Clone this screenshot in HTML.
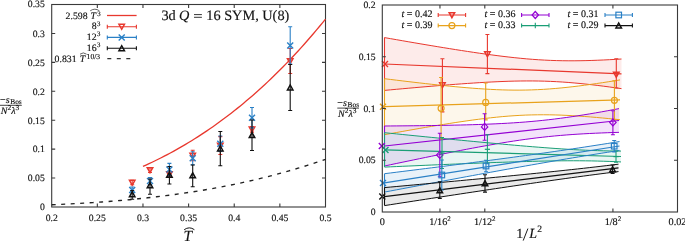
<!DOCTYPE html><html><head><meta charset="utf-8"><style>
html,body{margin:0;padding:0;background:#fff;overflow:hidden;}
svg{display:block;will-change:transform;text-rendering:geometricPrecision;}
text{font-family:"Liberation Serif", serif;fill:#111;stroke:#111;stroke-width:0.15px;}
.tk{font-size:9.7px;}
</style></head><body>
<svg width="685" height="241" viewBox="0 0 685 241">
<rect x="51.7" y="4.5" width="273.8" height="202.5" fill="none" stroke="#3a3a3a" stroke-width="1.1"/>
<text class="tk" x="51.7" y="220.8" text-anchor="middle">0.2</text>
<text class="tk" x="97.33" y="220.8" text-anchor="middle">0.25</text>
<text class="tk" x="142.97" y="220.8" text-anchor="middle">0.3</text>
<text class="tk" x="188.6" y="220.8" text-anchor="middle">0.35</text>
<text class="tk" x="234.23" y="220.8" text-anchor="middle">0.4</text>
<text class="tk" x="279.87" y="220.8" text-anchor="middle">0.45</text>
<text class="tk" x="325.5" y="220.8" text-anchor="middle">0.5</text>
<text class="tk" x="44.8" y="210.3" text-anchor="end">0</text>
<text class="tk" x="44.8" y="181.37" text-anchor="end">0.05</text>
<text class="tk" x="44.8" y="152.44" text-anchor="end">0.1</text>
<text class="tk" x="44.8" y="123.51" text-anchor="end">0.15</text>
<text class="tk" x="44.8" y="94.59" text-anchor="end">0.2</text>
<text class="tk" x="44.8" y="65.66" text-anchor="end">0.25</text>
<text class="tk" x="44.8" y="36.73" text-anchor="end">0.3</text>
<text class="tk" x="44.8" y="6.9" text-anchor="end">0.35</text>
<path d="M97.33 207v-3.5 M97.33 4.5v3.5 M142.97 207v-3.5 M142.97 4.5v3.5 M188.6 207v-3.5 M188.6 4.5v3.5 M234.23 207v-3.5 M234.23 4.5v3.5 M279.87 207v-3.5 M279.87 4.5v3.5 M51.7 178.07h3.5 M325.5 178.07h-3.5 M51.7 149.14h3.5 M325.5 149.14h-3.5 M51.7 120.21h3.5 M325.5 120.21h-3.5 M51.7 91.29h3.5 M325.5 91.29h-3.5 M51.7 62.36h3.5 M325.5 62.36h-3.5 M51.7 33.43h3.5 M325.5 33.43h-3.5" stroke="#3a3a3a" stroke-width="1.1" fill="none"/>
<polyline points="142.97,166.42 146.01,165.05 149.05,163.65 152.09,162.22 155.14,160.76 158.18,159.27 161.22,157.75 164.26,156.19 167.3,154.6 170.35,152.98 173.39,151.33 176.43,149.64 179.47,147.92 182.52,146.17 185.56,144.38 188.6,142.55 191.64,140.69 194.68,138.8 197.73,136.87 200.77,134.9 203.81,132.9 206.85,130.86 209.9,128.79 212.94,126.67 215.98,124.52 219.02,122.33 222.06,120.1 225.11,117.84 228.15,115.53 231.19,113.18 234.23,110.8 237.28,108.37 240.32,105.91 243.36,103.4 246.4,100.86 249.44,98.27 252.49,95.64 255.53,92.96 258.57,90.25 261.61,87.49 264.66,84.69 267.7,81.85 270.74,78.96 273.78,76.03 276.82,73.05 279.87,70.03 282.91,66.96 285.95,63.85 288.99,60.69 292.04,57.49 295.08,54.24 298.12,50.94 301.16,47.6 304.2,44.21 307.25,40.77 310.29,37.28 313.33,33.74 316.37,30.16 319.42,26.52 322.46,22.84 325.5,19.11" fill="none" stroke="#e8382e" stroke-width="1.3"/>
<polyline points="51.7,204.75 56.26,204.56 60.83,204.35 65.39,204.14 69.95,203.91 74.52,203.67 79.08,203.42 83.64,203.15 88.21,202.87 92.77,202.58 97.33,202.27 101.9,201.94 106.46,201.61 111.02,201.25 115.59,200.88 120.15,200.5 124.71,200.1 129.28,199.68 133.84,199.24 138.4,198.78 142.97,198.31 147.53,197.82 152.09,197.31 156.66,196.78 161.22,196.22 165.78,195.65 170.35,195.06 174.91,194.45 179.47,193.81 184.04,193.15 188.6,192.47 193.16,191.77 197.73,191.04 202.29,190.29 206.85,189.52 211.42,188.72 215.98,187.89 220.54,187.04 225.11,186.16 229.67,185.26 234.23,184.33 238.8,183.37 243.36,182.38 247.92,181.37 252.49,180.32 257.05,179.25 261.61,178.15 266.18,177.01 270.74,175.85 275.3,174.65 279.87,173.43 284.43,172.17 288.99,170.87 293.56,169.55 298.12,168.19 302.68,166.8 307.25,165.37 311.81,163.9 316.37,162.41 320.94,160.87 325.5,159.3" fill="none" stroke="#222" stroke-width="1.4" stroke-dasharray="4,5.5"/>
<path d="M132.2 180.4V184.8 M130.2 180.4h4 M130.2 184.8h4" stroke="#e8382e" stroke-width="1.1" fill="none"/>
<path d="M129.45 180.26L134.95 180.26L132.2 185.21Z" fill="none" stroke="#e8382e" stroke-width="1.5"/>
<path d="M150 167.5V172.5 M148 167.5h4 M148 172.5h4" stroke="#e8382e" stroke-width="1.1" fill="none"/>
<path d="M147.25 167.66L152.75 167.66L150 172.61Z" fill="none" stroke="#e8382e" stroke-width="1.5"/>
<path d="M169.4 171.5V176.5 M167.4 171.5h4 M167.4 176.5h4" stroke="#e8382e" stroke-width="1.1" fill="none"/>
<path d="M166.65 171.66L172.15 171.66L169.4 176.61Z" fill="none" stroke="#e8382e" stroke-width="1.5"/>
<path d="M192.7 150.2V160.8 M190.7 150.2h4 M190.7 160.8h4" stroke="#e8382e" stroke-width="1.1" fill="none"/>
<path d="M189.95 153.16L195.45 153.16L192.7 158.11Z" fill="none" stroke="#e8382e" stroke-width="1.5"/>
<path d="M220.3 136.6V154.5 M218.3 136.6h4 M218.3 154.5h4" stroke="#e8382e" stroke-width="1.1" fill="none"/>
<path d="M217.55 143.16L223.05 143.16L220.3 148.11Z" fill="none" stroke="#e8382e" stroke-width="1.5"/>
<path d="M252 126.5V132.1 M250 126.5h4 M250 132.1h4" stroke="#e8382e" stroke-width="1.1" fill="none"/>
<path d="M249.25 126.96L254.75 126.96L252 131.91Z" fill="none" stroke="#e8382e" stroke-width="1.5"/>
<path d="M290.2 48.5V73.5 M288.2 48.5h4 M288.2 73.5h4" stroke="#e8382e" stroke-width="1.1" fill="none"/>
<path d="M287.45 58.66L292.95 58.66L290.2 63.61Z" fill="none" stroke="#e8382e" stroke-width="1.5"/>
<path d="M132.2 187V193 M130.2 187h4 M130.2 193h4" stroke="#2a80c6" stroke-width="1.1" fill="none"/>
<path d="M129.2 187L135.2 193M129.2 193L135.2 187" stroke="#2a80c6" stroke-width="1.4"/>
<path d="M150 177.5V184.5 M148 177.5h4 M148 184.5h4" stroke="#2a80c6" stroke-width="1.1" fill="none"/>
<path d="M147 178L153 184M147 184L153 178" stroke="#2a80c6" stroke-width="1.4"/>
<path d="M169.4 163.4V175.6 M167.4 163.4h4 M167.4 175.6h4" stroke="#2a80c6" stroke-width="1.1" fill="none"/>
<path d="M166.4 166.5L172.4 172.5M166.4 172.5L172.4 166.5" stroke="#2a80c6" stroke-width="1.4"/>
<path d="M192.7 151.8V164.8 M190.7 151.8h4 M190.7 164.8h4" stroke="#2a80c6" stroke-width="1.1" fill="none"/>
<path d="M189.7 155.3L195.7 161.3M189.7 161.3L195.7 155.3" stroke="#2a80c6" stroke-width="1.4"/>
<path d="M220.3 136V151.4 M218.3 136h4 M218.3 151.4h4" stroke="#2a80c6" stroke-width="1.1" fill="none"/>
<path d="M217.3 140.7L223.3 146.7M217.3 146.7L223.3 140.7" stroke="#2a80c6" stroke-width="1.4"/>
<path d="M252 107.5V127.9 M250 107.5h4 M250 127.9h4" stroke="#2a80c6" stroke-width="1.1" fill="none"/>
<path d="M249 114.7L255 120.7M249 120.7L255 114.7" stroke="#2a80c6" stroke-width="1.4"/>
<path d="M290.2 26.7V64.1 M288.2 26.7h4 M288.2 64.1h4" stroke="#2a80c6" stroke-width="1.1" fill="none"/>
<path d="M287.2 42.4L293.2 48.4M287.2 48.4L293.2 42.4" stroke="#2a80c6" stroke-width="1.4"/>
<path d="M132.2 190.5V199.3 M130.2 190.5h4 M130.2 199.3h4" stroke="#111111" stroke-width="1.1" fill="none"/>
<path d="M129.45 196.74L134.95 196.74L132.2 191.79Z" fill="none" stroke="#111111" stroke-width="1.5"/>
<path d="M150 179V194.2 M148 179h4 M148 194.2h4" stroke="#111111" stroke-width="1.1" fill="none"/>
<path d="M147.25 187.74L152.75 187.74L150 182.79Z" fill="none" stroke="#111111" stroke-width="1.5"/>
<path d="M169.4 166.5V184 M167.4 166.5h4 M167.4 184h4" stroke="#111111" stroke-width="1.1" fill="none"/>
<path d="M166.65 177.34L172.15 177.34L169.4 172.39Z" fill="none" stroke="#111111" stroke-width="1.5"/>
<path d="M192.7 165V186.8 M190.7 165h4 M190.7 186.8h4" stroke="#111111" stroke-width="1.1" fill="none"/>
<path d="M189.95 177.84L195.45 177.84L192.7 172.89Z" fill="none" stroke="#111111" stroke-width="1.5"/>
<path d="M220.3 131.5V165.7 M218.3 131.5h4 M218.3 165.7h4" stroke="#111111" stroke-width="1.1" fill="none"/>
<path d="M217.55 150.94L223.05 150.94L220.3 145.99Z" fill="none" stroke="#111111" stroke-width="1.5"/>
<path d="M252 120V150.5 M250 120h4 M250 150.5h4" stroke="#111111" stroke-width="1.1" fill="none"/>
<path d="M249.25 137.54L254.75 137.54L252 132.59Z" fill="none" stroke="#111111" stroke-width="1.5"/>
<path d="M290.2 64.5V110.5 M288.2 64.5h4 M288.2 110.5h4" stroke="#111111" stroke-width="1.1" fill="none"/>
<path d="M287.45 89.94L292.95 89.94L290.2 84.99Z" fill="none" stroke="#111111" stroke-width="1.5"/>
<text x="87.6" y="18.9" text-anchor="end" style="font-size:9.8px">2.598</text>
<text x="90.4" y="18.9" style="font-size:9.8px;font-style:italic">T</text>
<text x="97.2" y="15.6" style="font-size:6.8px">3</text>
<path d="M90.2 10.8 Q94.8 7.6 99.4 10.8" stroke="#222" stroke-width="0.7" fill="none"/>
<text x="96.6" y="29.2" text-anchor="end" style="font-size:9.8px">8</text>
<text x="97.0" y="25.8" style="font-size:6.8px">3</text>
<text x="96.6" y="39.9" text-anchor="end" style="font-size:9.8px">12</text>
<text x="97.0" y="36.3" style="font-size:6.8px">3</text>
<text x="96.6" y="50.7" text-anchor="end" style="font-size:9.8px">16</text>
<text x="97.0" y="46.8" style="font-size:6.8px">3</text>
<text x="76.6" y="61.6" text-anchor="end" style="font-size:9.8px">0.831</text>
<text x="79.8" y="61.6" style="font-size:9.8px;font-style:italic">T</text>
<path d="M80.0 54.2 Q83.3 51.6 86.6 54.2" stroke="#222" stroke-width="0.7" fill="none"/>
<text x="86.6" y="58.6" style="font-size:7.6px">10/3</text>
<path d="M107 15.5H136.6" stroke="#e8382e" stroke-width="1.3"/>
<path d="M107.3 26.7H136.4 M107.3 24.7v4 M136.4 24.7v4" stroke="#e8382e" stroke-width="1.1"/>
<path d="M118.95 24.36L124.45 24.36L121.7 29.31Z" fill="none" stroke="#e8382e" stroke-width="1.5"/>
<path d="M107.3 37.4H136.4 M107.3 35.4v4 M136.4 35.4v4" stroke="#2a80c6" stroke-width="1.1"/>
<path d="M118.7 34.4L124.7 40.4M118.7 40.4L124.7 34.4" stroke="#2a80c6" stroke-width="1.4"/>
<path d="M107.3 48.3H136.4 M107.3 46.3v4 M136.4 46.3v4" stroke="#111111" stroke-width="1.1"/>
<path d="M118.95 50.64L124.45 50.64L121.7 45.69Z" fill="none" stroke="#111111" stroke-width="1.5"/>
<path d="M107.3 58.7H131" stroke="#333" stroke-width="1.2" stroke-dasharray="4,5.5"/>
<text y="19.7" style="font-size:14.3px"><tspan x="161.4">3d</tspan><tspan x="179.0" font-style="italic">Q</tspan><tspan x="206.3" textLength="83" lengthAdjust="spacingAndGlyphs">16 SYM, U(8)</tspan></text>
<path d="M194 14.6H201.9M194 17.3H201.9" stroke="#111" stroke-width="0.85"/>
<text x="0" y="102.7" style="font-size:10px">&#8722;<tspan font-style="italic">s</tspan><tspan font-size="7.4px" dx="0.7" dy="1.0">Bos</tspan></text><path d="M0 105.3h21.8" stroke="#111" stroke-width="0.8"/><text x="0.8" y="113.8" style="font-size:10px"><tspan font-style="italic">N</tspan><tspan font-size="7.4px" dy="-3.4">2</tspan><tspan font-style="italic" dy="3.4">&#955;</tspan><tspan font-size="7.4px" dy="-3.4">3</tspan></text>
<text x="187.8" y="240.8" text-anchor="middle" style="font-size:15.4px;font-style:italic">T</text>
<path d="M184.2 229.7 Q189.3 226.0 194.4 229.7" stroke="#111" stroke-width="1.0" fill="none"/>
<clipPath id="rc"><rect x="382.3" y="5" width="295.2" height="207"/></clipPath>
<g clip-path="url(#rc)">
<polygon points="384.5,37.6 390.43,38.64 396.35,39.67 402.27,40.7 408.2,41.72 414.12,42.74 420.05,43.75 425.98,44.75 431.9,45.74 437.82,46.72 443.75,47.69 449.68,48.65 455.6,49.6 461.52,50.52 467.45,51.43 473.38,52.32 479.3,53.19 485.23,54.03 491.15,54.84 497.07,55.62 503,56.36 508.93,57.06 514.85,57.71 520.77,58.31 526.7,58.86 532.62,59.34 538.55,59.76 544.48,60.1 550.4,60.38 556.33,60.59 562.25,60.72 568.17,60.79 574.1,60.79 580.02,60.73 585.95,60.61 591.88,60.44 597.8,60.23 603.73,59.97 609.65,59.68 615.58,59.36 621.5,59 621.5,88.65 615.58,87.81 609.65,86.99 603.73,86.21 597.8,85.46 591.88,84.76 585.95,84.1 580.02,83.49 574.1,82.94 568.17,82.45 562.25,82.02 556.33,81.67 550.4,81.38 544.48,81.17 538.55,81.02 532.62,80.95 526.7,80.94 520.77,80.99 514.85,81.1 508.93,81.26 503,81.47 497.07,81.72 491.15,82 485.23,82.32 479.3,82.67 473.38,83.05 467.45,83.45 461.52,83.87 455.6,84.3 449.68,84.75 443.75,85.22 437.82,85.7 431.9,86.19 425.98,86.69 420.05,87.2 414.12,87.72 408.2,88.24 402.27,88.77 396.35,89.31 390.43,89.85 384.5,90.4" fill="#e8382e" fill-opacity="0.1" stroke="none"/>
<polygon points="384.5,78.7 390.39,79.43 396.27,80.15 402.16,80.87 408.05,81.57 413.94,82.27 419.82,82.95 425.71,83.62 431.6,84.27 437.49,84.9 443.38,85.52 449.26,86.11 455.15,86.68 461.04,87.22 466.93,87.73 472.81,88.21 478.7,88.64 484.59,89.03 490.48,89.37 496.36,89.66 502.25,89.88 508.14,90.04 514.02,90.12 519.91,90.13 525.8,90.05 531.69,89.9 537.58,89.66 543.46,89.35 549.35,88.95 555.24,88.48 561.12,87.94 567.01,87.34 572.9,86.68 578.79,85.97 584.67,85.21 590.56,84.4 596.45,83.56 602.34,82.69 608.23,81.79 614.11,80.86 620,79.91 620,119.73 614.11,119.13 608.23,118.54 602.34,117.99 596.45,117.46 590.56,116.96 584.67,116.5 578.79,116.09 572.9,115.72 567.01,115.4 561.12,115.14 555.24,114.95 549.35,114.82 543.46,114.77 537.58,114.8 531.69,114.91 525.8,115.09 519.91,115.37 514.02,115.72 508.14,116.14 502.25,116.64 496.36,117.21 490.48,117.84 484.59,118.52 478.7,119.26 472.81,120.03 466.93,120.85 461.04,121.71 455.15,122.59 449.26,123.5 443.38,124.44 437.49,125.4 431.6,126.38 425.71,127.38 419.82,128.39 413.94,129.41 408.05,130.45 402.16,131.5 396.27,132.56 390.39,133.62 384.5,134.7" fill="#e8a21c" fill-opacity="0.09" stroke="none"/>
<polygon points="384.5,126 390.36,125.96 396.23,125.92 402.09,125.87 407.95,125.82 413.81,125.76 419.68,125.7 425.54,125.63 431.4,125.55 437.26,125.46 443.12,125.37 448.99,125.26 454.85,125.14 460.71,125.01 466.57,124.86 472.44,124.69 478.3,124.51 484.16,124.3 490.02,124.07 495.89,123.82 501.75,123.53 507.61,123.21 513.48,122.85 519.34,122.45 525.2,122 531.06,121.51 536.92,120.97 542.79,120.38 548.65,119.74 554.51,119.04 560.38,118.29 566.24,117.5 572.1,116.66 577.96,115.77 583.83,114.84 589.69,113.88 595.55,112.89 601.41,111.86 607.27,110.81 613.14,109.73 619,108.64 619,132.35 613.14,132.53 607.27,132.73 601.41,132.96 595.55,133.21 589.69,133.49 583.83,133.8 577.96,134.15 572.1,134.54 566.24,134.97 560.38,135.45 554.51,135.98 548.65,136.56 542.79,137.19 536.92,137.87 531.06,138.61 525.2,139.39 519.34,140.22 513.48,141.1 507.61,142.01 501.75,142.97 495.89,143.96 490.02,144.97 484.16,146.02 478.3,147.09 472.44,148.18 466.57,149.29 460.71,150.42 454.85,151.56 448.99,152.71 443.12,153.88 437.26,155.06 431.4,156.25 425.54,157.44 419.68,158.65 413.81,159.86 407.95,161.08 402.09,162.3 396.23,163.53 390.36,164.76 384.5,166" fill="#9400d3" fill-opacity="0.11" stroke="none"/>
<polygon points="384.5,132.7 390.41,133.29 396.32,133.89 402.24,134.48 408.15,135.07 414.06,135.65 419.98,136.24 425.89,136.83 431.8,137.41 437.71,137.99 443.62,138.57 449.54,139.14 455.45,139.72 461.36,140.29 467.27,140.85 473.19,141.42 479.1,141.98 485.01,142.53 490.93,143.08 496.84,143.62 502.75,144.16 508.66,144.69 514.58,145.21 520.49,145.72 526.4,146.22 532.31,146.71 538.23,147.18 544.14,147.64 550.05,148.08 555.96,148.5 561.88,148.9 567.79,149.27 573.7,149.61 579.61,149.92 585.52,150.2 591.44,150.44 597.35,150.64 603.26,150.8 609.17,150.93 615.09,151.02 621,151.07 621,161.95 615.09,161.67 609.17,161.42 603.26,161.22 597.35,161.05 591.44,160.92 585.52,160.83 579.61,160.78 573.7,160.76 567.79,160.77 561.88,160.81 555.96,160.87 550.05,160.96 544.14,161.07 538.23,161.2 532.31,161.35 526.4,161.5 520.49,161.68 514.58,161.86 508.66,162.05 502.75,162.25 496.84,162.45 490.93,162.67 485.01,162.88 479.1,163.11 473.19,163.34 467.27,163.57 461.36,163.81 455.45,164.05 449.54,164.29 443.62,164.54 437.71,164.78 431.8,165.03 425.89,165.29 419.98,165.54 414.06,165.8 408.15,166.06 402.24,166.31 396.32,166.58 390.41,166.84 384.5,167.1" fill="#1a9e76" fill-opacity="0.09" stroke="none"/>
<polygon points="384.5,173.7 390.38,172.97 396.25,172.24 402.12,171.51 408,170.77 413.88,170.04 419.75,169.3 425.62,168.56 431.5,167.82 437.38,167.08 443.25,166.33 449.12,165.59 455,164.84 460.88,164.08 466.75,163.33 472.62,162.57 478.5,161.81 484.38,161.04 490.25,160.27 496.12,159.5 502,158.72 507.88,157.94 513.75,157.15 519.62,156.35 525.5,155.55 531.38,154.74 537.25,153.93 543.12,153.11 549,152.28 554.88,151.44 560.75,150.59 566.62,149.73 572.5,148.86 578.38,147.99 584.25,147.1 590.12,146.2 596,145.29 601.88,144.37 607.75,143.44 613.62,142.5 619.5,141.54 619.5,150.46 613.62,151.36 607.75,152.26 601.88,153.17 596,154.1 590.12,155.03 584.25,155.98 578.38,156.93 572.5,157.9 566.62,158.88 560.75,159.87 554.88,160.86 549,161.87 543.12,162.88 537.25,163.91 531.38,164.94 525.5,165.97 519.62,167.02 513.75,168.07 507.88,169.12 502,170.18 496.12,171.25 490.25,172.32 484.38,173.4 478.5,174.47 472.62,175.56 466.75,176.64 460.88,177.73 455,178.83 449.12,179.92 443.25,181.02 437.38,182.12 431.5,183.22 425.62,184.32 419.75,185.43 413.88,186.54 408,187.65 402.12,188.76 396.25,189.87 390.38,190.98 384.5,192.1" fill="#2a80c6" fill-opacity="0.1" stroke="none"/>
<polygon points="384.5,187.6 390.35,187.07 396.2,186.54 402.05,186 407.9,185.47 413.75,184.94 419.6,184.4 425.45,183.86 431.3,183.33 437.15,182.79 443,182.24 448.85,181.7 454.7,181.16 460.55,180.61 466.4,180.06 472.25,179.51 478.1,178.96 483.95,178.41 489.8,177.85 495.65,177.29 501.5,176.72 507.35,176.16 513.2,175.59 519.05,175.01 524.9,174.43 530.75,173.85 536.6,173.26 542.45,172.66 548.3,172.06 554.15,171.45 560,170.84 565.85,170.21 571.7,169.58 577.55,168.94 583.4,168.3 589.25,167.64 595.1,166.97 600.95,166.29 606.8,165.6 612.65,164.9 618.5,164.18 618.5,171.58 612.65,172.3 606.8,173.04 600.95,173.78 595.1,174.54 589.25,175.31 583.4,176.08 577.55,176.87 571.7,177.67 565.85,178.47 560,179.29 554.15,180.11 548.3,180.93 542.45,181.77 536.6,182.61 530.75,183.46 524.9,184.31 519.05,185.16 513.2,186.03 507.35,186.89 501.5,187.76 495.65,188.63 489.8,189.51 483.95,190.38 478.1,191.27 472.25,192.15 466.4,193.03 460.55,193.92 454.7,194.81 448.85,195.7 443,196.6 437.15,197.49 431.3,198.39 425.45,199.29 419.6,200.18 413.75,201.08 407.9,201.99 402.05,202.89 396.2,203.79 390.35,204.7 384.5,205.6" fill="#111111" fill-opacity="0.09" stroke="none"/>
<polyline points="384.5,37.6 390.43,38.64 396.35,39.67 402.27,40.7 408.2,41.72 414.12,42.74 420.05,43.75 425.98,44.75 431.9,45.74 437.82,46.72 443.75,47.69 449.68,48.65 455.6,49.6 461.52,50.52 467.45,51.43 473.38,52.32 479.3,53.19 485.23,54.03 491.15,54.84 497.07,55.62 503,56.36 508.93,57.06 514.85,57.71 520.77,58.31 526.7,58.86 532.62,59.34 538.55,59.76 544.48,60.1 550.4,60.38 556.33,60.59 562.25,60.72 568.17,60.79 574.1,60.79 580.02,60.73 585.95,60.61 591.88,60.44 597.8,60.23 603.73,59.97 609.65,59.68 615.58,59.36 621.5,59" fill="none" stroke="#e8382e" stroke-width="1.0"/>
<polyline points="384.5,90.4 390.43,89.85 396.35,89.31 402.27,88.77 408.2,88.24 414.12,87.72 420.05,87.2 425.98,86.69 431.9,86.19 437.82,85.7 443.75,85.22 449.68,84.75 455.6,84.3 461.52,83.87 467.45,83.45 473.38,83.05 479.3,82.67 485.23,82.32 491.15,82 497.07,81.72 503,81.47 508.93,81.26 514.85,81.1 520.77,80.99 526.7,80.94 532.62,80.95 538.55,81.02 544.48,81.17 550.4,81.38 556.33,81.67 562.25,82.02 568.17,82.45 574.1,82.94 580.02,83.49 585.95,84.1 591.88,84.76 597.8,85.46 603.73,86.21 609.65,86.99 615.58,87.81 621.5,88.65" fill="none" stroke="#e8382e" stroke-width="1.0"/>
<path d="M384.5 64L621.5 73.83" stroke="#e8382e" stroke-width="1.2"/>
<path d="M384.5 37.6V90.4" stroke="#e8382e" stroke-width="1.1"/>
<polyline points="384.5,78.7 390.39,79.43 396.27,80.15 402.16,80.87 408.05,81.57 413.94,82.27 419.82,82.95 425.71,83.62 431.6,84.27 437.49,84.9 443.38,85.52 449.26,86.11 455.15,86.68 461.04,87.22 466.93,87.73 472.81,88.21 478.7,88.64 484.59,89.03 490.48,89.37 496.36,89.66 502.25,89.88 508.14,90.04 514.02,90.12 519.91,90.13 525.8,90.05 531.69,89.9 537.58,89.66 543.46,89.35 549.35,88.95 555.24,88.48 561.12,87.94 567.01,87.34 572.9,86.68 578.79,85.97 584.67,85.21 590.56,84.4 596.45,83.56 602.34,82.69 608.23,81.79 614.11,80.86 620,79.91" fill="none" stroke="#e8a21c" stroke-width="1.0"/>
<polyline points="384.5,134.7 390.39,133.62 396.27,132.56 402.16,131.5 408.05,130.45 413.94,129.41 419.82,128.39 425.71,127.38 431.6,126.38 437.49,125.4 443.38,124.44 449.26,123.5 455.15,122.59 461.04,121.71 466.93,120.85 472.81,120.03 478.7,119.26 484.59,118.52 490.48,117.84 496.36,117.21 502.25,116.64 508.14,116.14 514.02,115.72 519.91,115.37 525.8,115.09 531.69,114.91 537.58,114.8 543.46,114.77 549.35,114.82 555.24,114.95 561.12,115.14 567.01,115.4 572.9,115.72 578.79,116.09 584.67,116.5 590.56,116.96 596.45,117.46 602.34,117.99 608.23,118.54 614.11,119.13 620,119.73" fill="none" stroke="#e8a21c" stroke-width="1.0"/>
<path d="M384.5 106.7L620 99.82" stroke="#e8a21c" stroke-width="1.2"/>
<path d="M384.5 78.7V134.7" stroke="#e8a21c" stroke-width="1.1"/>
<polyline points="384.5,126 390.36,125.96 396.23,125.92 402.09,125.87 407.95,125.82 413.81,125.76 419.68,125.7 425.54,125.63 431.4,125.55 437.26,125.46 443.12,125.37 448.99,125.26 454.85,125.14 460.71,125.01 466.57,124.86 472.44,124.69 478.3,124.51 484.16,124.3 490.02,124.07 495.89,123.82 501.75,123.53 507.61,123.21 513.48,122.85 519.34,122.45 525.2,122 531.06,121.51 536.92,120.97 542.79,120.38 548.65,119.74 554.51,119.04 560.38,118.29 566.24,117.5 572.1,116.66 577.96,115.77 583.83,114.84 589.69,113.88 595.55,112.89 601.41,111.86 607.27,110.81 613.14,109.73 619,108.64" fill="none" stroke="#9400d3" stroke-width="1.0"/>
<polyline points="384.5,166 390.36,164.76 396.23,163.53 402.09,162.3 407.95,161.08 413.81,159.86 419.68,158.65 425.54,157.44 431.4,156.25 437.26,155.06 443.12,153.88 448.99,152.71 454.85,151.56 460.71,150.42 466.57,149.29 472.44,148.18 478.3,147.09 484.16,146.02 490.02,144.97 495.89,143.96 501.75,142.97 507.61,142.01 513.48,141.1 519.34,140.22 525.2,139.39 531.06,138.61 536.92,137.87 542.79,137.19 548.65,136.56 554.51,135.98 560.38,135.45 566.24,134.97 572.1,134.54 577.96,134.15 583.83,133.8 589.69,133.49 595.55,133.21 601.41,132.96 607.27,132.73 613.14,132.53 619,132.35" fill="none" stroke="#9400d3" stroke-width="1.0"/>
<path d="M384.5 146L619 120.5" stroke="#9400d3" stroke-width="1.2"/>
<path d="M384.5 126V166" stroke="#9400d3" stroke-width="1.1"/>
<polyline points="384.5,132.7 390.41,133.29 396.32,133.89 402.24,134.48 408.15,135.07 414.06,135.65 419.98,136.24 425.89,136.83 431.8,137.41 437.71,137.99 443.62,138.57 449.54,139.14 455.45,139.72 461.36,140.29 467.27,140.85 473.19,141.42 479.1,141.98 485.01,142.53 490.93,143.08 496.84,143.62 502.75,144.16 508.66,144.69 514.58,145.21 520.49,145.72 526.4,146.22 532.31,146.71 538.23,147.18 544.14,147.64 550.05,148.08 555.96,148.5 561.88,148.9 567.79,149.27 573.7,149.61 579.61,149.92 585.52,150.2 591.44,150.44 597.35,150.64 603.26,150.8 609.17,150.93 615.09,151.02 621,151.07" fill="none" stroke="#1a9e76" stroke-width="1.0"/>
<polyline points="384.5,167.1 390.41,166.84 396.32,166.58 402.24,166.31 408.15,166.06 414.06,165.8 419.98,165.54 425.89,165.29 431.8,165.03 437.71,164.78 443.62,164.54 449.54,164.29 455.45,164.05 461.36,163.81 467.27,163.57 473.19,163.34 479.1,163.11 485.01,162.88 490.93,162.67 496.84,162.45 502.75,162.25 508.66,162.05 514.58,161.86 520.49,161.68 526.4,161.5 532.31,161.35 538.23,161.2 544.14,161.07 550.05,160.96 555.96,160.87 561.88,160.81 567.79,160.77 573.7,160.76 579.61,160.78 585.52,160.83 591.44,160.92 597.35,161.05 603.26,161.22 609.17,161.42 615.09,161.67 621,161.95" fill="none" stroke="#1a9e76" stroke-width="1.0"/>
<path d="M384.5 149.9L621 156.51" stroke="#1a9e76" stroke-width="1.2"/>
<path d="M384.5 132.7V167.1" stroke="#1a9e76" stroke-width="1.1"/>
<polyline points="384.5,173.7 390.38,172.97 396.25,172.24 402.12,171.51 408,170.77 413.88,170.04 419.75,169.3 425.62,168.56 431.5,167.82 437.38,167.08 443.25,166.33 449.12,165.59 455,164.84 460.88,164.08 466.75,163.33 472.62,162.57 478.5,161.81 484.38,161.04 490.25,160.27 496.12,159.5 502,158.72 507.88,157.94 513.75,157.15 519.62,156.35 525.5,155.55 531.38,154.74 537.25,153.93 543.12,153.11 549,152.28 554.88,151.44 560.75,150.59 566.62,149.73 572.5,148.86 578.38,147.99 584.25,147.1 590.12,146.2 596,145.29 601.88,144.37 607.75,143.44 613.62,142.5 619.5,141.54" fill="none" stroke="#2a80c6" stroke-width="1.0"/>
<polyline points="384.5,192.1 390.38,190.98 396.25,189.87 402.12,188.76 408,187.65 413.88,186.54 419.75,185.43 425.62,184.32 431.5,183.22 437.38,182.12 443.25,181.02 449.12,179.92 455,178.83 460.88,177.73 466.75,176.64 472.62,175.56 478.5,174.47 484.38,173.4 490.25,172.32 496.12,171.25 502,170.18 507.88,169.12 513.75,168.07 519.62,167.02 525.5,165.97 531.38,164.94 537.25,163.91 543.12,162.88 549,161.87 554.88,160.86 560.75,159.87 566.62,158.88 572.5,157.9 578.38,156.93 584.25,155.98 590.12,155.03 596,154.1 601.88,153.17 607.75,152.26 613.62,151.36 619.5,150.46" fill="none" stroke="#2a80c6" stroke-width="1.0"/>
<path d="M384.5 182.9L619.5 146" stroke="#2a80c6" stroke-width="1.2"/>
<path d="M384.5 173.7V192.1" stroke="#2a80c6" stroke-width="1.1"/>
<polyline points="384.5,187.6 390.35,187.07 396.2,186.54 402.05,186 407.9,185.47 413.75,184.94 419.6,184.4 425.45,183.86 431.3,183.33 437.15,182.79 443,182.24 448.85,181.7 454.7,181.16 460.55,180.61 466.4,180.06 472.25,179.51 478.1,178.96 483.95,178.41 489.8,177.85 495.65,177.29 501.5,176.72 507.35,176.16 513.2,175.59 519.05,175.01 524.9,174.43 530.75,173.85 536.6,173.26 542.45,172.66 548.3,172.06 554.15,171.45 560,170.84 565.85,170.21 571.7,169.58 577.55,168.94 583.4,168.3 589.25,167.64 595.1,166.97 600.95,166.29 606.8,165.6 612.65,164.9 618.5,164.18" fill="none" stroke="#111111" stroke-width="1.0"/>
<polyline points="384.5,205.6 390.35,204.7 396.2,203.79 402.05,202.89 407.9,201.99 413.75,201.08 419.6,200.18 425.45,199.29 431.3,198.39 437.15,197.49 443,196.6 448.85,195.7 454.7,194.81 460.55,193.92 466.4,193.03 472.25,192.15 478.1,191.27 483.95,190.38 489.8,189.51 495.65,188.63 501.5,187.76 507.35,186.89 513.2,186.03 519.05,185.16 524.9,184.31 530.75,183.46 536.6,182.61 542.45,181.77 548.3,180.93 554.15,180.11 560,179.29 565.85,178.47 571.7,177.67 577.55,176.87 583.4,176.08 589.25,175.31 595.1,174.54 600.95,173.78 606.8,173.04 612.65,172.3 618.5,171.58" fill="none" stroke="#111111" stroke-width="1.0"/>
<path d="M384.5 196.6L618.5 167.88" stroke="#111111" stroke-width="1.2"/>
<path d="M384.5 187.6V205.6" stroke="#111111" stroke-width="1.1"/>
</g>
<path d="M382 61L388 67M382 67L388 61" stroke="#e8382e" stroke-width="1.4"/>
<path d="M442.4 58.8V111.9 M440.4 58.8h4 M440.4 111.9h4" stroke="#e8382e" stroke-width="1.1" fill="none"/>
<path d="M439.65 82.86L445.15 82.86L442.4 87.81Z" fill="none" stroke="#e8382e" stroke-width="1.5"/>
<path d="M487.4 34.5V73.6 M485.4 34.5h4 M485.4 73.6h4" stroke="#e8382e" stroke-width="1.1" fill="none"/>
<path d="M484.65 51.86L490.15 51.86L487.4 56.81Z" fill="none" stroke="#e8382e" stroke-width="1.5"/>
<path d="M616.3 58.8V88 M614.3 58.8h4 M614.3 88h4" stroke="#e8382e" stroke-width="1.1" fill="none"/>
<path d="M613.55 72.16L619.05 72.16L616.3 77.11Z" fill="none" stroke="#e8382e" stroke-width="1.5"/>
<path d="M380 103.7L386 109.7M380 109.7L386 103.7" stroke="#e8a21c" stroke-width="1.4"/>
<path d="M441.1 77.5V139.1 M439.1 77.5h4 M439.1 139.1h4" stroke="#e8a21c" stroke-width="1.1" fill="none"/>
<circle cx="441.1" cy="108.3" r="3" fill="none" stroke="#e8a21c" stroke-width="1.2"/>
<path d="M485.7 83V119.9 M483.7 83h4 M483.7 119.9h4" stroke="#e8a21c" stroke-width="1.1" fill="none"/>
<circle cx="485.7" cy="102.4" r="3" fill="none" stroke="#e8a21c" stroke-width="1.2"/>
<path d="M614.4 80.8V119.8 M612.4 80.8h4 M612.4 119.8h4" stroke="#e8a21c" stroke-width="1.1" fill="none"/>
<circle cx="614.4" cy="100.3" r="3" fill="none" stroke="#e8a21c" stroke-width="1.2"/>
<path d="M378.8 143L384.8 149M378.8 149L384.8 143" stroke="#9400d3" stroke-width="1.4"/>
<path d="M439.8 133.3V176.8 M437.8 133.3h4 M437.8 176.8h4" stroke="#9400d3" stroke-width="1.1" fill="none"/>
<path d="M439.8 151.38L443 154.9L439.8 158.42L436.6 154.9Z" fill="none" stroke="#9400d3" stroke-width="1.2"/>
<path d="M484.6 113.7V140.2 M482.6 113.7h4 M482.6 140.2h4" stroke="#9400d3" stroke-width="1.1" fill="none"/>
<path d="M484.6 123.38L487.8 126.9L484.6 130.42L481.4 126.9Z" fill="none" stroke="#9400d3" stroke-width="1.2"/>
<path d="M612.9 110.8V134.8 M610.9 110.8h4 M610.9 134.8h4" stroke="#9400d3" stroke-width="1.1" fill="none"/>
<path d="M612.9 118.88L616.1 122.4L612.9 125.92L609.7 122.4Z" fill="none" stroke="#9400d3" stroke-width="1.2"/>
<path d="M382.5 146.9L388.5 152.9M382.5 152.9L388.5 146.9" stroke="#1a9e76" stroke-width="1.4"/>
<path d="M442 137.5V168.5 M440 137.5h4 M440 168.5h4" stroke="#1a9e76" stroke-width="1.1" fill="none"/>
<path d="M439.4 153h5.2" stroke="#1a9e76" stroke-width="1.2"/>
<path d="M487.4 134.8V163.8 M485.4 134.8h4 M485.4 163.8h4" stroke="#1a9e76" stroke-width="1.1" fill="none"/>
<path d="M484.8 149.3h5.2" stroke="#1a9e76" stroke-width="1.2"/>
<path d="M616 151V162.3 M614 151h4 M614 162.3h4" stroke="#1a9e76" stroke-width="1.1" fill="none"/>
<path d="M613.4 156.6h5.2" stroke="#1a9e76" stroke-width="1.2"/>
<path d="M380 179.9L386 185.9M380 185.9L386 179.9" stroke="#2a80c6" stroke-width="1.4"/>
<path d="M441.8 160V190 M439.8 160h4 M439.8 190h4" stroke="#2a80c6" stroke-width="1.1" fill="none"/>
<rect x="439" y="172.2" width="5.6" height="5.6" fill="none" stroke="#2a80c6" stroke-width="1.2"/>
<path d="M486 160.3V171.8 M484 160.3h4 M484 171.8h4" stroke="#2a80c6" stroke-width="1.1" fill="none"/>
<rect x="483.2" y="163.2" width="5.6" height="5.6" fill="none" stroke="#2a80c6" stroke-width="1.2"/>
<path d="M614.2 140.5V151.9 M612.2 140.5h4 M612.2 151.9h4" stroke="#2a80c6" stroke-width="1.1" fill="none"/>
<rect x="611.4" y="143.4" width="5.6" height="5.6" fill="none" stroke="#2a80c6" stroke-width="1.2"/>
<path d="M379.3 193.6L385.3 199.6M379.3 199.6L385.3 193.6" stroke="#111111" stroke-width="1.4"/>
<path d="M439.8 181.8V198.4 M437.8 181.8h4 M437.8 198.4h4" stroke="#111111" stroke-width="1.1" fill="none"/>
<path d="M437.05 192.84L442.55 192.84L439.8 187.89Z" fill="none" stroke="#111111" stroke-width="1.5"/>
<path d="M485 174.7V192.1 M483 174.7h4 M483 192.1h4" stroke="#111111" stroke-width="1.1" fill="none"/>
<path d="M482.25 185.74L487.75 185.74L485 180.79Z" fill="none" stroke="#111111" stroke-width="1.5"/>
<path d="M612.6 165V173.5 M610.6 165h4 M610.6 173.5h4" stroke="#111111" stroke-width="1.1" fill="none"/>
<path d="M609.85 171.64L615.35 171.64L612.6 166.69Z" fill="none" stroke="#111111" stroke-width="1.5"/>
<rect x="382.3" y="5" width="295.2" height="207" fill="none" stroke="#3a3a3a" stroke-width="1.1"/>
<text class="tk" x="382.3" y="224.9" text-anchor="middle" style="font-size:10.2px">0</text>
<text class="tk" x="439.96" y="224.9" text-anchor="middle" style="font-size:10.2px">1/16<tspan dy="-3.9" font-size="7px">2</tspan></text>
<text class="tk" x="484.8" y="224.9" text-anchor="middle" style="font-size:10.2px">1/12<tspan dy="-3.9" font-size="7px">2</tspan></text>
<text class="tk" x="612.92" y="224.9" text-anchor="middle" style="font-size:10.2px">1/8<tspan dy="-3.9" font-size="7px">2</tspan></text>
<text class="tk" x="677.5" y="224.9" text-anchor="middle" style="font-size:10.2px">0.02</text>
<text class="tk" x="375.6" y="215" text-anchor="end">0</text>
<text class="tk" x="375.6" y="163.25" text-anchor="end">0.05</text>
<text class="tk" x="375.6" y="111.5" text-anchor="end">0.1</text>
<text class="tk" x="375.6" y="59.75" text-anchor="end">0.15</text>
<text class="tk" x="375.6" y="8" text-anchor="end">0.2</text>
<path d="M439.96 212v-3.5 M439.96 5v3.5 M484.8 212v-3.5 M484.8 5v3.5 M612.92 212v-3.5 M612.92 5v3.5 M382.3 160.25h3.5 M677.5 160.25h-3.5 M382.3 108.5h3.5 M677.5 108.5h-3.5 M382.3 56.75h3.5 M677.5 56.75h-3.5" stroke="#3a3a3a" stroke-width="1.1" fill="none"/>
<text x="337.3" y="105.5" style="font-size:10px">&#8722;<tspan font-style="italic">s</tspan><tspan font-size="7.4px" dx="0.7" dy="1.0">Bos</tspan></text><path d="M337.3 108.1h21.7" stroke="#111" stroke-width="0.8"/><text x="338.1" y="116.6" style="font-size:10px"><tspan font-style="italic">N</tspan><tspan font-size="7.4px" dy="-3.4">2</tspan><tspan font-style="italic" dy="3.4">&#955;</tspan><tspan font-size="7.4px" dy="-3.4">3</tspan></text>
<text x="516.2" y="237.9" style="font-size:14px">1</text>
<path d="M523.2 240.6L527.9 228.6" stroke="#111" stroke-width="0.95"/>
<text x="529.3" y="237.9" style="font-size:14px;font-style:italic">L</text>
<text x="537.3" y="232.3" style="font-size:9.6px">2</text>
<text x="432.5" y="16.9" text-anchor="end" style="font-size:10px"><tspan font-style="italic">t</tspan> = 0.42</text>
<path d="M438.2 15H465.6 M438.2 13v4 M465.6 13v4" stroke="#e8382e" stroke-width="1.1"/>
<path d="M449.15 12.66L454.65 12.66L451.9 17.61Z" fill="none" stroke="#e8382e" stroke-width="1.5"/>
<text x="432.5" y="27.5" text-anchor="end" style="font-size:10px"><tspan font-style="italic">t</tspan> = 0.39</text>
<path d="M438.2 25.6H465.6 M438.2 23.6v4 M465.6 23.6v4" stroke="#e8a21c" stroke-width="1.1"/>
<circle cx="451.9" cy="25.6" r="3" fill="none" stroke="#e8a21c" stroke-width="1.2"/>
<text x="515.5" y="16.9" text-anchor="end" style="font-size:10px"><tspan font-style="italic">t</tspan> = 0.36</text>
<path d="M521.6 15H549 M521.6 13v4 M549 13v4" stroke="#9400d3" stroke-width="1.1"/>
<path d="M535.3 11.48L538.5 15L535.3 18.52L532.1 15Z" fill="none" stroke="#9400d3" stroke-width="1.2"/>
<text x="515.5" y="27.5" text-anchor="end" style="font-size:10px"><tspan font-style="italic">t</tspan> = 0.33</text>
<path d="M521.6 25.6H549 M521.6 23.6v4 M549 23.6v4" stroke="#1a9e76" stroke-width="1.1"/>
<path d="M535.3 22.85v5.5" stroke="#1a9e76" stroke-width="1.1"/>
<text x="598.5" y="16.9" text-anchor="end" style="font-size:10px"><tspan font-style="italic">t</tspan> = 0.31</text>
<path d="M605 15H632.4 M605 13v4 M632.4 13v4" stroke="#2a80c6" stroke-width="1.1"/>
<rect x="615.9" y="12.2" width="5.6" height="5.6" fill="none" stroke="#2a80c6" stroke-width="1.2"/>
<text x="598.5" y="27.5" text-anchor="end" style="font-size:10px"><tspan font-style="italic">t</tspan> = 0.29</text>
<path d="M605 25.6H632.4 M605 23.6v4 M632.4 23.6v4" stroke="#111111" stroke-width="1.1"/>
<path d="M615.95 27.94L621.45 27.94L618.7 22.99Z" fill="none" stroke="#111111" stroke-width="1.5"/>
</svg></body></html>
